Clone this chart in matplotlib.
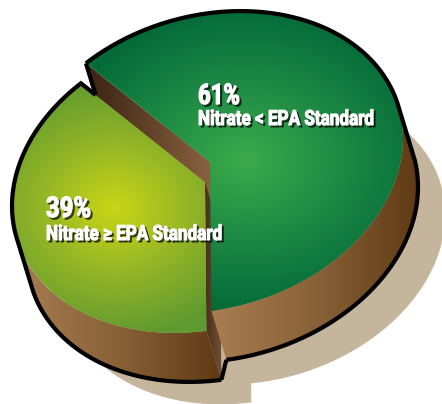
import numpy as np
import matplotlib
matplotlib.use("Agg")
import matplotlib.pyplot as plt
from matplotlib.path import Path
from matplotlib.patches import PathPatch, Polygon
from matplotlib.colors import LinearSegmentedColormap as LSC
from matplotlib.transforms import Affine2D
import matplotlib.patheffects as pe

# data
percent_values = [61, 39]
percent_labels = ["61%", "39%"]
category_labels = ["Nitrate < EPA Standard", "Nitrate \u2265 EPA Standard"]

# layout (pixel space)
W, H = 442, 404
AX, AY, TILT = 193.0, 149.0, -24.0
GC = np.array([210.0, 162.0])
YC = GC + np.array([-5.0, 20.0])
D = np.array([15.0, 49.0])
START = -130.0
SH_G = (np.array([258.0, 238.0]), 0.97)
SH_Y = (np.array([250.0, 258.0]), 0.97)

def P(t, c, s=1.0):
    t = np.radians(t)
    return np.column_stack([c[0] + s * AX * np.cos(t),
                            c[1] + s * (TILT * np.cos(t) + AY * np.sin(t))])

def wedge(c, a, b, s=1.0):
    return np.vstack([[c], P(np.linspace(a, b, 300), c, s)])

t0 = START
t1 = t0 + percent_values[0] * 3.6
t2 = t1 + percent_values[1] * 3.6
tan_r = np.degrees(np.arctan2(-(D[0] * AY), (AX * D[1] + D[0] * TILT)))
tan_l = tan_r + 180

fig = plt.figure(figsize=(W / 100, H / 100), dpi=100)
ax = fig.add_axes([0, 0, 1, 1])
ax.set_xlim(0, W); ax.set_ylim(H, 0); ax.axis("off")

def gradfill(poly, kind, z, cmap, **k):
    yy, xx = np.mgrid[0:H, 0:W] + 0.5
    if kind == "radial":
        v = np.hypot((xx - k["cx"]) / k["rx"], (yy - k["cy"]) / k["ry"])
    else:
        v = (xx - k["x0"]) / (k["x1"] - k["x0"])
    im = ax.imshow(np.clip(v, 0, 1), extent=(0, W, H, 0), cmap=cmap, vmin=0, vmax=1,
                   zorder=z, interpolation="bilinear", aspect="auto")
    patch = PathPatch(Path(np.vstack([poly, poly[:1]])), transform=ax.transData, fc="none", ec="none")
    ax.add_patch(patch)
    im.set_clip_path(patch)

wall = LSC.from_list("wall", ["#a87e52", "#8a6238", "#5f3a14"])
cut_g = LSC.from_list("cg", ["#3a2213", "#88623f"])
cut_y = LSC.from_list("cy", ["#4a2f1c", "#6f4c30"])
gr = LSC.from_list("gr", ["#3cab4a", "#1f8a45", "#046b38"])
yl = LSC.from_list("yl", ["#c9d616", "#94b526", "#5f9a30"])

# shadows
SHC = "#c4b59c"
ax.add_patch(Polygon(wedge(SH_G[0], 0, 360, SH_G[1]), fc=SHC, ec="none", zorder=1))
ax.add_patch(Polygon(wedge(SH_Y[0], t1, t2, SH_Y[1]), fc=SHC, ec="none", zorder=1))

# cut faces
gcorner = P([t0], GC)[0]; ycorner = P([t2], YC)[0]
gcut = np.array([GC, gcorner, gcorner + D, GC + D])
gradfill(gcut, "linear", 2, cut_g, x0=gcorner[0], x1=GC[0])
ybot = P([t1], YC)[0]
ycut = np.array([YC, ybot, ybot + D, YC + D])
gradfill(ycut, "linear", 3, cut_y, x0=YC[0], x1=YC[0] + 15)

# curved walls
ts = np.linspace(tan_r, t1, 200)
gw = np.vstack([P(ts, GC), P(ts[::-1], GC + D)])
gradfill(gw, "linear", 4, wall, x0=GC[0], x1=GC[0] + AX + D[0])
ts = np.linspace(t1, tan_l, 200)
yw = np.vstack([P(ts, YC), P(ts[::-1], YC + D)])
gradfill(yw, "linear", 4, wall, x0=YC[0] - AX, x1=YC[0] + D[0])

# tops
gradfill(wedge(GC, t0, t1), "radial", 5, gr, cx=245, cy=160, rx=190, ry=150)
gradfill(wedge(YC, t1, t2), "radial", 6, yl, cx=115, cy=208, rx=150, ry=130)

# outlines
LW = 4.2 * 72 / 100
e = ycorner - YC
u = np.linalg.solve(np.column_stack([D, -e]), YC - gcorner)
notch = gcorner + u[0] * D
arc_g = np.vstack([P(np.linspace(t0, tan_r, 200), GC),
                   P(np.linspace(tan_r, t1, 200), GC + D)])
arc_y = np.vstack([[notch], P(np.linspace(t2, tan_l, 200), YC),
                   P(np.linspace(tan_l, t1, 200), YC + D)])
for arc in (arc_g, arc_y):
    ax.plot(arc[:, 0], arc[:, 1], color="k", lw=LW, zorder=8,
            solid_joinstyle="miter", solid_capstyle="butt")
extra = np.vstack([[notch], [gcorner]])
ax.plot(extra[:, 0], extra[:, 1], color="k", lw=LW, zorder=8, solid_capstyle="butt")
end = np.vstack([P([t1], GC + D), P([t1], YC + D)])
ax.plot(end[:, 0], end[:, 1], color="k", lw=LW, zorder=8, solid_capstyle="butt")

# text: Roboto squeezed horizontally (no condensed face installed)
class Squeezed(pe.AbstractPathEffect):
    def __init__(self, x0, sx, bold):
        super().__init__()
        self.x0, self.sx, self.bold = x0, sx, bold
    def draw_path(self, renderer, gc, tpath, affine, rgbFace=None):
        sq = affine + Affine2D().translate(-self.x0, 0).scale(self.sx, 1).translate(self.x0, 0)
        sh = renderer.new_gc(); sh.copy_properties(gc)
        sh.set_linewidth(self.bold); sh.set_foreground((0, 0, 0, 0.6), isRGBA=True); sh.set_alpha(0.6)
        renderer.draw_path(sh, tpath, sq + Affine2D().translate(2, -2), (0, 0, 0, 0.6))
        sh.restore()
        g = renderer.new_gc(); g.copy_properties(gc)
        g.set_linewidth(self.bold); g.set_foreground("white")
        renderer.draw_path(g, tpath, sq, rgbFace)
        g.restore()

FONT = ["Roboto", "DejaVu Sans"]
for (px, py, ly, s1, s2), pc, cat in zip([(198, 104, 125, 0.78, 0.82), (46, 217, 240, 0.84, 0.82)],
                                         percent_labels, category_labels):
    ax.text(px, py, pc, color="white", family=FONT, weight="bold", fontsize=20.5, zorder=10,
            va="baseline", path_effects=[Squeezed(px, s1, 0.9)])
    ax.text(px, ly, cat, color="white", family=FONT, weight="bold", fontsize=15, zorder=10,
            va="baseline", path_effects=[Squeezed(px, s2, 0.8)])

fig.savefig("out.png", dpi=100)
